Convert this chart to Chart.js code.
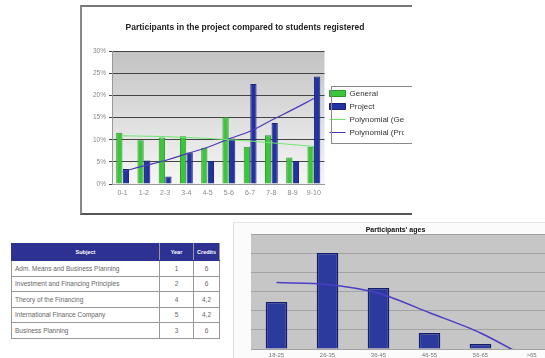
<!DOCTYPE html>
<html>
<head>
<meta charset="utf-8">
<script src="https://cdn.jsdelivr.net/npm/chart.js@4/dist/chart.umd.min.js"></script>
<style>
  html, body { margin: 0; padding: 0; background: #fff; overflow: hidden; }
  body { width: 545px; height: 358px; position: relative; font-family: "Liberation Sans", Arial, sans-serif; }
  #topBox { position: absolute; left: 80px; top: 5px; width: 330px; height: 206px; overflow: hidden;
            border-top: 2px solid #777; border-left: 2px solid #888; border-bottom: 2px solid #555; }
  #topBox canvas { position: absolute; left: 0; top: 0; }
  #ageBox { position: absolute; left: 233px; top: 222px; width: 312px; height: 136px; overflow: hidden;
            border-left: 1px solid #ddd; border-top: 1px solid #e4e4e4; background: #fbfbfb; }
  #ageBox canvas { position: absolute; left: 0; top: 0; }
  #subjects { position: absolute; left: 11px; top: 243px; width: 209px; border-collapse: collapse;
              font-size: 6.5px; color: #666; }
  #subjects th { background: #2d3192; color: #fff; font-weight: bold; height: 14px; border: 1px solid #2d3192;
                 border-right: 1px solid #999; font-size: 5.5px; }
  #subjects td { height: 14.5px; border: 1px solid #999; padding: 0 0 0 3px; }
  #subjects td.c { text-align: center; padding: 0; }
</style>
</head>
<body>
<div id="topBox"><canvas id="projectChart" width="330" height="206"></canvas></div>
<table id="subjects"><thead><tr><th style="width:145px">Subject</th><th style="width:31px">Year</th><th>Credits</th></tr></thead><tbody></tbody></table>
<div id="ageBox"><canvas id="ageChart" width="332" height="136"></canvas></div>
<script>
// Top chart: share of participants per year band
const periods = ['0-1', '1-2', '2-3', '3-4', '4-5', '5-6', '6-7', '7-8', '8-9', '9-10'];
const generalValues = [11.6, 9.9, 10.5, 10.8, 8.2, 15.1, 8.4, 11.0, 6.0, 8.4];
const projectValues = [3.4, 5.3, 1.7, 7.1, 5.2, 10.3, 22.6, 13.8, 5.2, 24.3];
const generalTrend = [10.9, 10.8, 10.7, 10.5, 10.3, 10.0, 9.7, 9.3, 8.9, 8.5];
const projectTrend = [2.8, 4.1, 5.3, 6.8, 8.3, 10.2, 11.9, 14.4, 16.8, 19.3];
const percentTicks = [0, 5, 10, 15, 20, 25, 30];

// Bottom chart: participants' ages
const ageGroups = ['18-25', '26-35', '36-45', '46-55', '56-65', '>65'];
const ageValues = [12.3, 25.1, 16.0, 4.2, 1.3, 0];
const ageTrend = [17.4, 16.9, 14.6, 9.5, 4.2, -2.9];

// Table of subjects
const subjects = ['Adm. Means and Business Planning', 'Investment and Financing Principles',
  'Theory of the Financing', 'International Finance Company', 'Business Planning'];
const years = ['1', '2', '4', '5', '3'];
const credits = ['6', '6', '4,2', '4,2', '6'];

const tbody = document.querySelector('#subjects tbody');
subjects.forEach((s, i) => {
  const tr = document.createElement('tr');
  tr.innerHTML = '<td>' + s + '</td><td class="c">' + years[i] + '</td><td class="c">' + credits[i] + '</td>';
  tbody.appendChild(tr);
});

Chart.defaults.font.family = '"Liberation Sans", Arial, sans-serif';
Chart.defaults.animation = false;

// gradient / flat fill behind the plot area
const plotBg = {
  id: 'plotBg',
  beforeDraw(chart, args, opts) {
    const a = chart.chartArea, ctx = chart.ctx;
    ctx.save();
    if (opts.gradient) {
      const g = ctx.createLinearGradient(0, a.top, 0, a.bottom);
      g.addColorStop(0, '#c2c2c2');
      g.addColorStop(0.5, '#dedede');
      g.addColorStop(1, '#f6f6f6');
      ctx.fillStyle = g;
    } else {
      ctx.fillStyle = opts.color || '#c8c8c8';
    }
    ctx.fillRect(a.left, a.top, a.right - a.left, a.bottom - a.top);
    ctx.restore();
  }
};

// frame around the legend items
const legendFrame = {
  id: 'legendFrame',
  afterDraw(chart) {
    const boxes = chart.legend && chart.legend.legendHitBoxes;
    if (!boxes || !boxes.length) return;
    const ctx = chart.ctx;
    const x = boxes[0].left + 1, y = boxes[0].top - 4;
    const b = boxes[boxes.length - 1];
    ctx.save();
    ctx.strokeStyle = '#888';
    ctx.lineWidth = 1;
    ctx.strokeRect(Math.round(x) + 0.5, Math.round(y) + 0.5, 200, b.top + b.height + 6 - y);
    ctx.restore();
  }
};

new Chart(document.getElementById('projectChart'), {
  type: 'bar',
  data: {
    labels: periods,
    datasets: [
      { label: 'General', data: generalValues, backgroundColor: '#3cc43c', borderColor: '#2a9a2a', borderWidth: 1,
        categoryPercentage: 0.62, barPercentage: 0.95, pointStyle: 'rect', order: 2 },
      { label: 'Project', data: projectValues, backgroundColor: '#2232a0', borderColor: '#18207a', borderWidth: 1,
        categoryPercentage: 0.62, barPercentage: 0.95, pointStyle: 'rect', order: 2 },
      { type: 'line', label: 'Polynomial (General)', data: generalTrend, borderColor: '#6ee86e', borderWidth: 1,
        pointRadius: 0, tension: 0.4, pointStyle: 'line', order: 1 },
      { type: 'line', label: 'Polynomial (Project)', data: projectTrend, borderColor: '#4a3ab8', borderWidth: 1.2,
        pointRadius: 0, tension: 0.4, pointStyle: 'line', order: 1 }
    ]
  },
  options: {
    responsive: false,
    layout: { padding: { top: 6, left: 4, right: 8, bottom: 0 } },
    plugins: {
      plotBg: { gradient: true },
      tooltip: { enabled: false },
      title: { display: true, text: 'Participants in the project compared to students registered',
        color: '#222', font: { size: 8.5, weight: 'bold' }, padding: { top: 10, bottom: 18 } },
      legend: {
        position: 'right',
        labels: { usePointStyle: true, pointStyleWidth: 16, boxHeight: 6, boxWidth: 20, padding: 5,
          color: '#333', font: { size: 8 }, sort: (a, b) => a.datasetIndex - b.datasetIndex }
      }
    },
    scales: {
      x: {
        afterFit: s => { s.height = 29; },
        grid: { display: false, drawTicks: false },
        border: { color: '#999' },
        ticks: { color: '#888', font: { size: 7 }, padding: 5 }
      },
      y: {
        min: 0, max: 30,
        afterFit: s => { s.width = 26; },
        afterBuildTicks: s => { s.ticks = percentTicks.map(v => ({ value: v })); },
        grid: { color: '#444', lineWidth: 1, tickLength: 3 },
        border: { color: '#999' },
        ticks: { color: '#888', font: { size: 6.5 }, padding: 3, callback: v => v + '%' }
      }
    }
  },
  plugins: [plotBg, legendFrame]
});

new Chart(document.getElementById('ageChart'), {
  type: 'bar',
  data: {
    labels: ageGroups,
    datasets: [
      { label: 'Participants', data: ageValues, backgroundColor: '#2b3a9c', borderColor: '#141c6e', borderWidth: 1.5,
        categoryPercentage: 0.9, barPercentage: 0.47, order: 2 },
      { type: 'line', label: 'Trend', data: ageTrend, borderColor: '#4a3fc4', borderWidth: 1.5,
        pointRadius: 0, tension: 0.3, order: 1 }
    ]
  },
  options: {
    responsive: false,
    layout: { padding: { top: 1, left: 0, right: 9, bottom: 0 } },
    plugins: {
      plotBg: { color: '#c6c6c6' },
      tooltip: { enabled: false },
      legend: { display: false },
      title: { display: true, text: "Participants' ages", color: '#111',
        font: { size: 7, weight: 'bold' }, padding: { top: 2, bottom: 0 } }
    },
    scales: {
      x: {
        afterFit: s => { s.height = 10; },
        grid: { display: false, drawTicks: false },
        border: { display: false },
        ticks: { color: '#777', font: { size: 6 }, padding: 3 }
      },
      y: {
        min: 0, max: 30,
        afterFit: s => { s.width = 17; },
        grid: { color: '#a2a2a2', drawTicks: false },
        border: { display: false },
        ticks: { display: false, stepSize: 5 }
      }
    }
  },
  plugins: [plotBg]
});
</script>
</body>
</html>
